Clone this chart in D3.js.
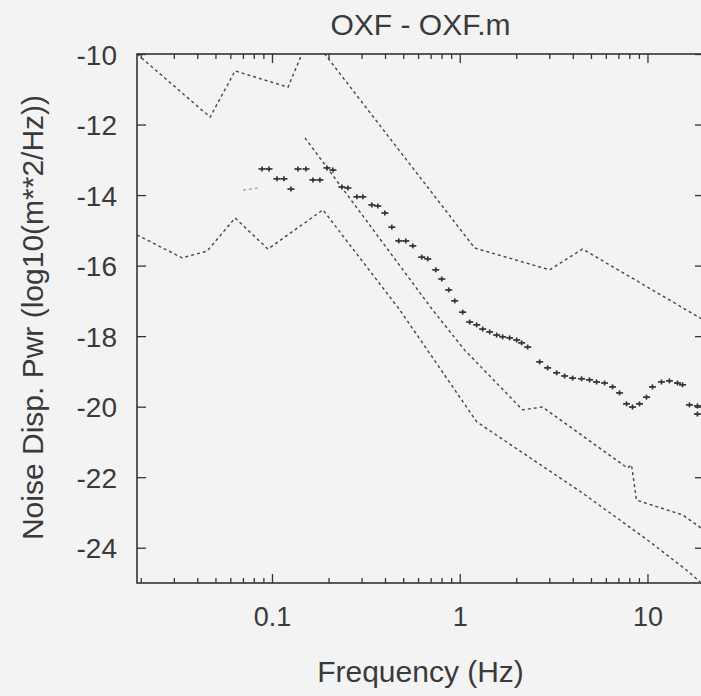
<!DOCTYPE html>
<html>
<head>
<meta charset="utf-8">
<script src="https://cdn.jsdelivr.net/npm/d3@7"></script>
<style>
  html, body { margin: 0; padding: 0; background: #f3f3f3; }
  svg { display: block; }
  text { font-family: "Liberation Sans", Arial, Helvetica, sans-serif; fill: #3a3a3a; }
</style>
</head>
<body>
<svg id="chart" width="701" height="696"></svg>
<script>
// ---------------- data ----------------
const chartTitle = "OXF - OXF.m";
const xTitle = "Frequency (Hz)";
const yTitle = "Noise Disp. Pwr (log10(m**2/Hz))";
const xTickValues = [0.1, 1, 10];
const xTickLabels = ["0.1", "1", "10"];
const yTickValues = [-10, -12, -14, -16, -18, -20, -22, -24];

// upper reference curve
const upperFreq = [0.0191, 0.0468, 0.0636, 0.1216, 0.1444, 0.165, 0.191, 1.20, 3.01, 4.51, 20];
const upperVal  = [-10.0, -11.79, -10.48, -10.94, -10.0, -9.6, -10.0, -15.50, -16.12, -15.53, -17.55];

// lower reference curve
const lowerFreq = [0.0191, 0.0332, 0.0451, 0.0636, 0.0952, 0.1868, 0.480, 1.232, 4.51, 10, 16.1, 19.1];
const lowerVal  = [-15.13, -15.78, -15.59, -14.65, -15.53, -14.42, -17.26, -20.43, -22.45, -23.78, -24.63, -24.97];

// middle model curve
const midFreq = [0.150, 0.718, 1.06, 2.16, 2.76, 7.83, 8.22, 8.74, 15.4, 20];
const midVal  = [-12.38, -17.26, -18.39, -20.09, -20.01, -21.74, -21.65, -22.65, -23.07, -23.50];

// faint short segment
const faintFreq = [0.0701, 0.0843];
const faintVal  = [-13.86, -13.80];

// measured noise points (+)
const ptsFreq = [0.0885, 0.0964, 0.1063, 0.1158, 0.1262, 0.1375, 0.1517, 0.1652, 0.1800, 0.1962,
  0.2111, 0.2357, 0.2537, 0.2832, 0.3048, 0.3402, 0.3662, 0.3992, 0.4347, 0.4736,
  0.5161, 0.5623, 0.6280, 0.6757, 0.7453, 0.8023, 0.8739, 0.9406, 1.037, 1.130,
  1.231, 1.325, 1.444, 1.573, 1.693, 1.845, 2.010, 2.137, 2.300, 2.665,
  2.938, 3.281, 3.619, 3.992, 4.457, 4.915, 5.355, 5.906, 6.514, 7.099,
  7.734, 8.323, 9.067, 9.878, 10.63, 11.87, 13.09, 14.44, 15.36, 16.73,
  18.45, 18.45];
const ptsVal = [-13.26, -13.26, -13.54, -13.54, -13.83, -13.26, -13.26, -13.57, -13.57, -13.23,
  -13.29, -13.77, -13.80, -14.05, -14.05, -14.28, -14.31, -14.51, -14.91, -15.30,
  -15.30, -15.44, -15.76, -15.81, -16.12, -16.38, -16.69, -17.00, -17.32, -17.60,
  -17.68, -17.80, -17.88, -17.97, -18.02, -18.05, -18.11, -18.19, -18.31, -18.73,
  -18.90, -19.04, -19.13, -19.19, -19.21, -19.24, -19.30, -19.33, -19.44, -19.61,
  -19.92, -20.01, -19.92, -19.73, -19.44, -19.30, -19.27, -19.33, -19.38, -19.95,
  -19.98, -20.21];

// ---------------- drawing ----------------
const svg = d3.select("#chart");
const pLeft = 137, pTop = 54, pRight = 704, pBottom = 583;

const x = d3.scaleLog().domain([0.0191, 20]).range([pLeft, pRight]);
const y = d3.scaleLinear().domain([-25, -10]).range([pBottom, pTop]);

const lineColor = "#454545";

svg.append("defs").append("clipPath").attr("id", "plotclip")
  .append("rect").attr("x", pLeft).attr("y", pTop).attr("width", pRight - pLeft).attr("height", pBottom - pTop);

const plot = svg.append("g").attr("clip-path", "url(#plotclip)");

const line = d3.line().x(d => x(d[0])).y(d => y(d[1]));

function drawCurve(fs, vs, color, width) {
  plot.append("path")
    .datum(fs.map((f, i) => [f, vs[i]]))
    .attr("d", line)
    .attr("fill", "none")
    .attr("stroke", color)
    .attr("stroke-width", width)
    .attr("stroke-dasharray", "3,3");
}
drawCurve(upperFreq, upperVal, lineColor, 1.4);
drawCurve(lowerFreq, lowerVal, lineColor, 1.4);
drawCurve(midFreq, midVal, lineColor, 1.4);
drawCurve(faintFreq, faintVal, "#9a9a9a", 1.2);

// plus markers
const pts = ptsFreq.map((f, i) => [f, ptsVal[i]]);
const pg = plot.append("g").attr("stroke", "#333").attr("stroke-width", 1.7).attr("fill", "none");
pts.forEach(p => {
  const cx = x(p[0]), cy = y(p[1]);
  pg.append("line").attr("x1", cx - 3.5).attr("x2", cx + 3.5).attr("y1", cy).attr("y2", cy);
  pg.append("line").attr("x1", cx).attr("x2", cx).attr("y1", cy - 2.5).attr("y2", cy + 2.5);
});

// axes with inward ticks
const axisColor = "#333";
const minorTicks = x.ticks().filter(t => xTickValues.indexOf(t) < 0);

const bottomAxis = svg.append("g").attr("transform", `translate(0,${pBottom})`)
  .call(d3.axisBottom(x).tickValues(xTickValues).tickFormat((d, i) => xTickLabels[i]).tickSizeInner(-9).tickSizeOuter(0).tickPadding(24));
const bottomMinor = svg.append("g").attr("transform", `translate(0,${pBottom})`)
  .call(d3.axisBottom(x).tickValues(minorTicks).tickFormat("").tickSizeInner(-5).tickSizeOuter(0));
const topAxis = svg.append("g").attr("transform", `translate(0,${pTop})`)
  .call(d3.axisTop(x).tickValues(xTickValues).tickFormat("").tickSizeInner(-9).tickSizeOuter(0));
const topMinor = svg.append("g").attr("transform", `translate(0,${pTop})`)
  .call(d3.axisTop(x).tickValues(minorTicks).tickFormat("").tickSizeInner(-5).tickSizeOuter(0));
const leftAxis = svg.append("g").attr("transform", `translate(${pLeft},0)`)
  .call(d3.axisLeft(y).tickValues(yTickValues).tickFormat(d => d).tickSizeInner(-9).tickSizeOuter(0).tickPadding(20));
const rightAxis = svg.append("g").attr("transform", `translate(${pRight},0)`)
  .call(d3.axisRight(y).tickValues(yTickValues).tickFormat("").tickSizeInner(-9).tickSizeOuter(0));

[bottomAxis, bottomMinor, topAxis, topMinor, leftAxis, rightAxis].forEach(g => {
  g.select(".domain").remove();
  g.selectAll(".tick line").attr("stroke", axisColor).attr("stroke-width", 1.3);
  g.selectAll(".tick text").attr("fill", "#3a3a3a")
    .attr("font-family", '"Liberation Sans", Arial, sans-serif');
});
leftAxis.selectAll(".tick text").attr("font-size", 28).attr("dy", "0.36em");
bottomAxis.selectAll(".tick text").attr("font-size", 27).attr("dy", "0.71em");

// frame
svg.append("rect").attr("x", pLeft).attr("y", pTop).attr("width", pRight - pLeft).attr("height", pBottom - pTop)
  .attr("fill", "none").attr("stroke", axisColor).attr("stroke-width", 1.6);

// titles
svg.append("text").attr("x", (pLeft + pRight) / 2).attr("y", 35).attr("text-anchor", "middle")
  .attr("font-size", 30).text(chartTitle);
svg.append("text").attr("x", (pLeft + pRight) / 2).attr("y", 682).attr("text-anchor", "middle")
  .attr("font-size", 30).text(xTitle);
svg.append("text").attr("transform", `translate(43,${(pTop + pBottom) / 2 - 1}) rotate(-90)`)
  .attr("text-anchor", "middle").attr("font-size", 30).text(yTitle);
</script>
</body>
</html>
